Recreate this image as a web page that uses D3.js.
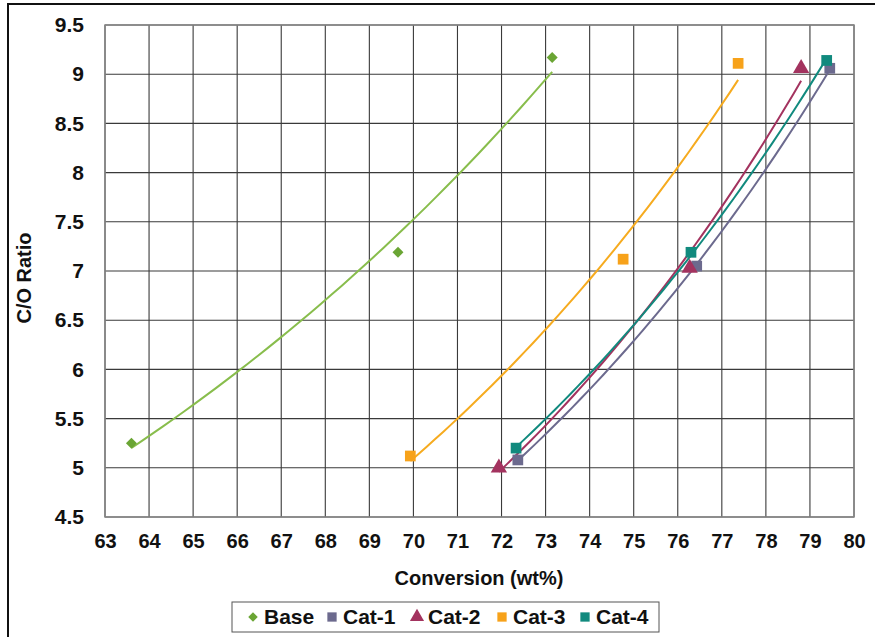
<!DOCTYPE html>
<html>
<head>
<meta charset="utf-8">
<script src="https://cdn.jsdelivr.net/npm/d3@7"></script>
<style>
  body { margin: 0; background: #fff; }
  text { font-family: "Liberation Sans", Arial, sans-serif; font-weight: bold; fill: #111; }
</style>
</head>
<body>
<div id="chart"></div>
<script>
// data
const seriesNames = ["Base", "Cat-1", "Cat-2", "Cat-3", "Cat-4"];
const baseX = [63.6, 69.65, 73.15];
const baseY = [5.25, 7.19, 9.17];
const cat1X = [72.37, 76.43, 79.45];
const cat1Y = [5.08, 7.05, 9.06];
const cat2X = [71.94, 76.27, 78.8];
const cat2Y = [5.0, 7.03, 9.06];
const cat3X = [69.93, 74.76, 77.37];
const cat3Y = [5.12, 7.12, 9.11];
const cat4X = [72.33, 76.3, 79.38];
const cat4Y = [5.2, 7.19, 9.14];
const xTicks = d3.range(63, 81, 1);
const yTicks = [4.5, 5, 5.5, 6, 6.5, 7, 7.5, 8, 8.5, 9, 9.5];

const colors = ["#6aa534", "#6c6a8e", "#a3335f", "#f7a21a", "#118a7e"];
const lineColors = ["#88bd4c", "#6c6a8e", "#a3335f", "#f6ab1f", "#118a7e"];
const shapes = ["diamond", "square", "triangle", "square", "square"];

const series = seriesNames.map((name, i) => ({
  name: name,
  xs: [baseX, cat1X, cat2X, cat3X, cat4X][i],
  ys: [baseY, cat1Y, cat2Y, cat3Y, cat4Y][i],
  color: colors[i], lineColor: lineColors[i], shape: shapes[i]
}));

// marker path + rotation for a shape
function markerPath(shape, scale) {
  if (shape === "triangle") return d3.symbol().type(d3.symbolTriangle).size(115 * scale)();
  if (shape === "diamond") return d3.symbol().type(d3.symbolSquare).size(60 * scale)();
  return d3.symbol().type(d3.symbolSquare).size(115 * scale)();
}
const rot = shape => shape === "diamond" ? " rotate(45)" : "";

const width = 875, height = 637;
const margin = {top: 25, right: 21, bottom: 120, left: 105};

const svg = d3.select("#chart").append("svg")
  .attr("width", width).attr("height", height);

// outer frame (runs off right and bottom edges)
svg.append("rect")
  .attr("x", 8).attr("y", 4).attr("width", 900).attr("height", 700)
  .attr("fill", "none").attr("stroke", "#111").attr("stroke-width", 2);

const x = d3.scaleLinear().domain([63, 80]).range([margin.left, width - margin.right]);
const y = d3.scaleLinear().domain([4.5, 9.5]).range([height - margin.bottom, margin.top]);

// grid
svg.append("g").selectAll("line").data(xTicks).join("line")
  .attr("x1", d => x(d)).attr("x2", d => x(d))
  .attr("y1", y(4.5)).attr("y2", y(9.5))
  .attr("stroke", "#3a3a3a").attr("stroke-width", 1.1);
svg.append("g").selectAll("line").data(yTicks).join("line")
  .attr("x1", x(63)).attr("x2", x(80))
  .attr("y1", d => y(d)).attr("y2", d => y(d))
  .attr("stroke", "#3a3a3a").attr("stroke-width", 1.1);
svg.append("rect")
  .attr("x", x(63)).attr("y", y(9.5))
  .attr("width", x(80) - x(63)).attr("height", y(4.5) - y(9.5))
  .attr("fill", "none").attr("stroke", "#888").attr("stroke-width", 1.5);

// axes labels via d3 axes
const xAxis = svg.append("g")
  .attr("transform", `translate(0,${y(4.5)})`)
  .call(d3.axisBottom(x).tickValues(xTicks).tickSize(0).tickPadding(17).tickFormat(d3.format("d")));
xAxis.select(".domain").remove();
xAxis.selectAll("text").style("font-size", "20px").attr("font-family", null);

const yAxis = svg.append("g")
  .attr("transform", `translate(${x(63)},0)`)
  .call(d3.axisLeft(y).tickValues(yTicks).tickSize(0).tickPadding(21).tickFormat(d => String(d)));
yAxis.select(".domain").remove();
yAxis.selectAll("text").style("font-size", "21px").attr("font-family", null);

svg.append("text")
  .attr("x", 479).attr("y", 585)
  .attr("text-anchor", "middle").style("font-size", "20px")
  .text("Conversion (wt%)");
svg.append("text")
  .attr("transform", "translate(31,278) rotate(-90)")
  .attr("text-anchor", "middle").style("font-size", "20px")
  .text("C/O Ratio");

// exponential trendline fit (like a spreadsheet trendline)
function expFit(xs, ys) {
  const ly = ys.map(Math.log);
  const mx = d3.mean(xs), my = d3.mean(ly);
  const b = d3.sum(xs, (v, i) => (v - mx) * (ly[i] - my)) / d3.sum(xs, v => (v - mx) * (v - mx));
  const a = Math.exp(my - b * mx);
  return v => a * Math.exp(b * v);
}

const line = d3.line().x(d => x(d[0])).y(d => y(d[1]));

const trendOrder = [0, 3, 1, 2, 4];
trendOrder.forEach(i => {
  const s = series[i];
  const f = expFit(s.xs, s.ys);
  const x0 = d3.min(s.xs), x1 = d3.max(s.xs);
  const pts = d3.range(0, 41).map(k => {
    const v = x0 + (x1 - x0) * k / 40;
    return [v, f(v)];
  });
  svg.append("path").datum(pts)
    .attr("d", line)
    .attr("fill", "none")
    .attr("stroke", s.lineColor)
    .attr("stroke-width", 2);
});

// markers
series.forEach(s => {
  svg.append("g").selectAll("path")
    .data(s.xs.map((v, i) => [v, s.ys[i]]))
    .join("path")
    .attr("transform", d => `translate(${x(d[0])},${y(d[1])})` + rot(s.shape))
    .attr("d", markerPath(s.shape, 1))
    .attr("fill", s.color);
});

// legend
const legend = svg.append("g");
legend.append("rect")
  .attr("x", 232).attr("y", 602).attr("width", 427).attr("height", 30)
  .attr("fill", "#fff").attr("stroke", "#555").attr("stroke-width", 1);
const legendX = [253, 332, 417, 502, 585];
series.forEach((s, i) => {
  legend.append("path")
    .attr("transform", `translate(${legendX[i]},617)` + rot(s.shape))
    .attr("d", markerPath(s.shape, 0.75))
    .attr("fill", s.color);
  legend.append("text")
    .attr("x", legendX[i] + 11).attr("y", 624)
    .style("font-size", "21px")
    .text(s.name);
});
</script>
</body>
</html>
